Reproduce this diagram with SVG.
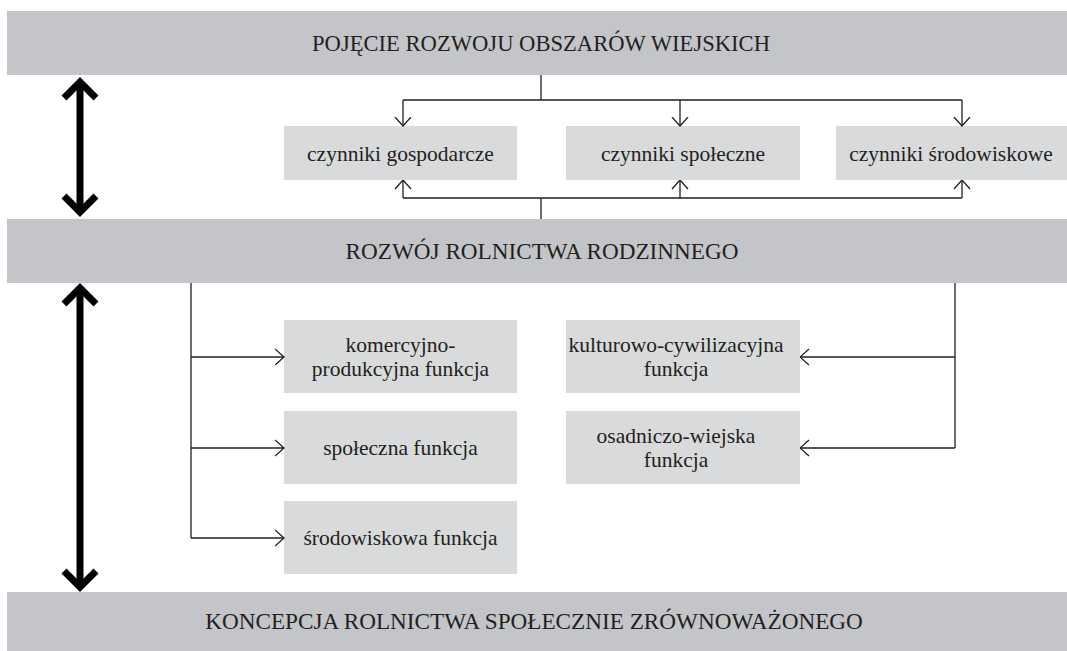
<svg xmlns="http://www.w3.org/2000/svg" width="1067" height="651" viewBox="0 0 1067 651">
  <style>
    .bar { fill: #c4c5c8; }
    .box { fill: #d8dadb; }
    .t { fill: #231f20; text-anchor: middle; }
    .big { font-size: 23.2px; }
    .sm { font-size: 21.5px; }
    .ln { fill: none; stroke: #231f20; stroke-width: 1.3; }
    .thick { fill: none; stroke: #000; stroke-width: 7; stroke-linejoin: miter; stroke-linecap: butt; }
  </style>
  <defs>
    <marker id="ah" viewBox="0 0 10 18" refX="9.5" refY="9" markerWidth="10" markerHeight="18" orient="auto" markerUnits="userSpaceOnUse">
      <path d="M0.5,1 L9.5,9 L0.5,17" fill="none" stroke="#231f20" stroke-width="1.3"/>
    </marker>
  </defs>
  <rect width="1067" height="651" fill="#ffffff"/>

  <g font-family="'Liberation Serif', 'DejaVu Serif', serif">
  <g id="n-pojecie">
    <rect class="bar" x="7" y="11" width="1060" height="64"/>
    <text class="t big" x="541" y="51" style="font-size:22.6px">POJĘCIE ROZWOJU OBSZARÓW WIEJSKICH</text>
  </g>
  <g id="n-gospodarcze">
    <rect class="box" x="284" y="126" width="233" height="54"/>
    <text class="t sm" x="400.5" y="161">czynniki gospodarcze</text>
  </g>
  <g id="n-spoleczne">
    <rect class="box" x="566" y="126" width="234" height="54"/>
    <text class="t sm" x="683" y="161">czynniki społeczne</text>
  </g>
  <g id="n-srodowiskowe">
    <rect class="box" x="836" y="126" width="231" height="54"/>
    <text class="t sm" x="951" y="161">czynniki środowiskowe</text>
  </g>
  <g id="n-rozwoj">
    <rect class="bar" x="7" y="219" width="1060" height="64"/>
    <text class="t big" x="542" y="259">ROZWÓJ ROLNICTWA RODZINNEGO</text>
  </g>
  <g id="n-komercyjno">
    <rect class="box" x="284" y="320" width="233" height="73"/>
    <text class="t sm" x="400.5" y="352">komercyjno-</text>
    <text class="t sm" x="400.5" y="376">produkcyjna funkcja</text>
  </g>
  <g id="n-spoleczna">
    <rect class="box" x="284" y="411" width="233" height="73"/>
    <text class="t sm" x="400.5" y="455">społeczna funkcja</text>
  </g>
  <g id="n-srodowiskowa">
    <rect class="box" x="284" y="501" width="233" height="73"/>
    <text class="t sm" x="400.5" y="545">środowiskowa funkcja</text>
  </g>
  <g id="n-kulturowo">
    <rect class="box" x="566" y="320" width="234" height="73"/>
    <text class="t sm" x="676" y="352">kulturowo-cywilizacyjna</text>
    <text class="t sm" x="676" y="376">funkcja</text>
  </g>
  <g id="n-osadniczo">
    <rect class="box" x="566" y="411" width="234" height="73"/>
    <text class="t sm" x="676" y="443">osadniczo-wiejska</text>
    <text class="t sm" x="676" y="467">funkcja</text>
  </g>
  <g id="n-koncepcja">
    <rect class="bar" x="7" y="592" width="1060" height="59"/>
    <text class="t big" x="534" y="629">KONCEPCJA ROLNICTWA SPOŁECZNIE ZRÓWNOWAŻONEGO</text>
  </g>
  </g>

  <g id="connectors">
    <path class="thick" d="M80,83 V211"/>
    <path class="thick" d="M64,98 L80,82 L96,98"/>
    <path class="thick" d="M64,196 L80,212 L96,196"/>
    <path class="thick" d="M80,289 V586"/>
    <path class="thick" d="M64,304 L80,288 L96,304"/>
    <path class="thick" d="M64,571 L80,587 L96,571"/>

    <path class="ln" d="M541,75 V100 M403,100 H962"/>
    <path class="ln" d="M403,100 V126" marker-end="url(#ah)"/>
    <path class="ln" d="M680,100 V126" marker-end="url(#ah)"/>
    <path class="ln" d="M962,100 V126" marker-end="url(#ah)"/>

    <path class="ln" d="M541,219 V198 M403,198 H962"/>
    <path class="ln" d="M403,198 V180" marker-end="url(#ah)"/>
    <path class="ln" d="M680,198 V180" marker-end="url(#ah)"/>
    <path class="ln" d="M962,198 V180" marker-end="url(#ah)"/>

    <path class="ln" d="M191,283 V538"/>
    <path class="ln" d="M191,357 H284" marker-end="url(#ah)"/>
    <path class="ln" d="M191,448 H284" marker-end="url(#ah)"/>
    <path class="ln" d="M191,538 H284" marker-end="url(#ah)"/>

    <path class="ln" d="M955,283 V448"/>
    <path class="ln" d="M955,357 H800" marker-end="url(#ah)"/>
    <path class="ln" d="M955,448 H800" marker-end="url(#ah)"/>
  </g>
</svg>
